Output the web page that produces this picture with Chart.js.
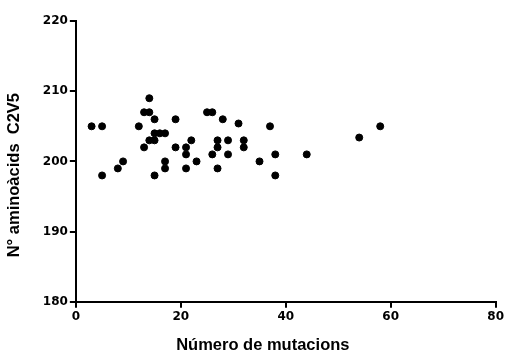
<!DOCTYPE html>
<html>
<head>
<meta charset="utf-8">
<script src="https://cdn.jsdelivr.net/npm/chart.js@4"></script>
<style>
  html, body { margin: 0; padding: 0; background: #fff; }
  #wrap { width: 506px; height: 358px; }
</style>
</head>
<body>
<div id="wrap"><canvas id="chart" width="506" height="358"></canvas></div>
<script>
// numero de mutacions
const mutacions = [3, 5, 5, 8, 9, 12, 13, 14, 14, 13, 14, 15, 15, 15, 16, 17, 15, 17, 17, 19, 19, 21, 21, 21, 22, 23, 25, 26, 26, 27, 27, 27, 28, 29, 29, 31, 32, 32, 35, 37, 38, 38, 44, 54, 58];
// aminoacids C2V5
const aminoacids = [205, 205, 198, 199, 200, 205, 207, 207, 209, 202, 203, 203, 206, 204, 204, 204, 198, 200, 199, 206, 202, 202, 201, 199, 203, 200, 207, 207, 201, 203, 202, 199, 206, 203, 201, 205.4, 203, 202, 200, 205, 201, 198, 201, 203.4, 205];

const xTicks = [0, 20, 40, 60, 80];
const yTicks = [180, 190, 200, 210, 220];

// trailing spaces push the titles off-centre like in the original figure
const xTitle = "Número de mutacions" + " ".repeat(10);
const yTitle = "N° aminoàcids  C2V5" + " ".repeat(6);

const points = mutacions.map((m, i) => ({ x: m, y: aminoacids[i] }));

Chart.defaults.font.family = "Arial, 'Liberation Sans', sans-serif";
Chart.defaults.color = "#000";

const tickFont = { family: "'DejaVu Sans', sans-serif", size: 12, weight: "bold" };
const titleFont = { size: 16.5, weight: "bold" };

new Chart(document.getElementById("chart"), {
    type: "scatter",
    data: {
        datasets: [{
            data: points,
            backgroundColor: "#000",
            borderColor: "#000",
            pointRadius: 3.5,
            pointHoverRadius: 3.5
        }]
    },
    options: {
        responsive: false,
        animation: false,
        layout: { padding: { left: 5, right: 10, top: 21, bottom: 3 } },
        plugins: { legend: { display: false }, tooltip: { enabled: false } },
        scales: {
            x: {
                type: "linear",
                min: 0,
                max: 80,
                afterBuildTicks: axis => { axis.ticks = xTicks.map(v => ({ value: v })); },
                grid: { drawOnChartArea: false, color: "#000", lineWidth: 2, tickLength: 6 },
                border: { color: "#000", width: 2 },
                ticks: { color: "#000", font: tickFont, padding: 2, maxRotation: 0 },
                title: { display: true, text: xTitle, color: "#000", font: titleFont, padding: { top: 9, bottom: 0 } }
            },
            y: {
                type: "linear",
                min: 180,
                max: 220,
                afterBuildTicks: axis => { axis.ticks = yTicks.map(v => ({ value: v })); },
                grid: { drawOnChartArea: false, color: "#000", lineWidth: 2, tickLength: 6 },
                border: { color: "#000", width: 2 },
                ticks: { color: "#000", font: tickFont, padding: 2 },
                title: { display: true, text: yTitle, color: "#000", font: titleFont, padding: { top: 0, bottom: 16 } }
            }
        }
    }
});
</script>
</body>
</html>
